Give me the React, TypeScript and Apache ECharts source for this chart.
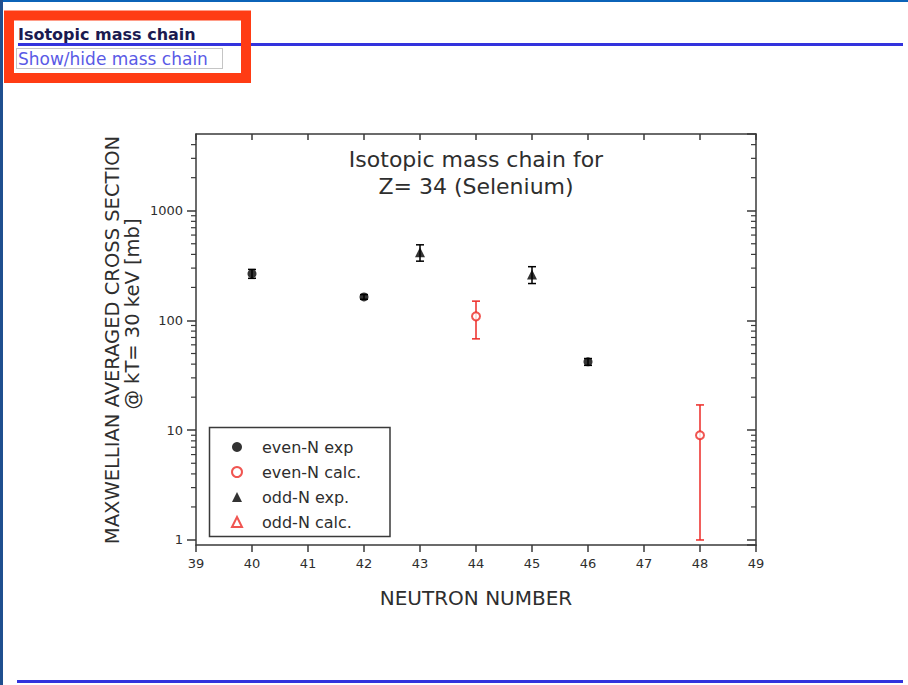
import React, { useEffect, useRef } from "react";
import * as echarts from "echarts";

// ---- data (Se, Z = 34): neutron number vs. MACS at kT = 30 keV [mb]
const evenExpN = [40, 42, 46];
const evenExpSigma = [267, 164, 42];
const evenExpErr = [25, 8, 3];

const evenCalcN = [44, 48];
const evenCalcSigma = [109, 9];
const evenCalcErr = [41, 8];

const oddExpN = [43, 45];
const oddExpSigma = [418, 263];
const oddExpErr = [71, 46];

const oddCalcN: number[] = [];
const oddCalcSigma: number[] = [];

const seriesNames = ["even-N exp", "even-N calc.", "odd-N exp.", "odd-N calc."];
const yMajorLabels = [1, 10, 100, 1000];
const yDecades = [1, 10, 100, 1000];
const yMinorMultipliers = [2, 3, 4, 5, 6, 7, 8, 9];
const xMin = 39;
const xMax = 49;
const yMin = 0.9;
const yMax = 5000;

const titleText = "Isotopic mass chain for\nZ= 34 (Selenium)";
const yTitle1 = "MAXWELLIAN AVERAGED CROSS SECTION";
const yTitle2 = "@ kT= 30 keV [mb]";
const xTitle = "NEUTRON NUMBER";

const FONT = '"DejaVu Sans", Verdana, sans-serif';
const RED = "#ec2a26";
const INK = "#2e2e2e";
const AXIS = "#3a3a3a";

function pairs(xs: number[], ys: number[]) {
  return xs.map((x, i) => [x, ys[i]]);
}

function errorBars(name: string, xs: number[], ys: number[], errs: number[], color: string) {
  return {
    type: "custom",
    name,
    coordinateSystem: "cartesian2d",
    clip: false,
    z: 2,
    silent: true,
    encode: { x: 0, y: [1, 2] },
    data: xs.map((x, i) => [x, ys[i] - errs[i], ys[i] + errs[i]]),
    renderItem: (_p: any, api: any) => {
      const x = api.value(0);
      const lo = api.coord([x, api.value(1)]);
      const hi = api.coord([x, api.value(2)]);
      const hw = 4;
      const st = { stroke: color, lineWidth: 1.5 };
      return {
        type: "group",
        children: [
          { type: "line", shape: { x1: lo[0], y1: lo[1], x2: hi[0], y2: hi[1] }, style: st },
          { type: "line", shape: { x1: lo[0] - hw, y1: lo[1], x2: lo[0] + hw, y2: lo[1] }, style: st },
          { type: "line", shape: { x1: hi[0] - hw, y1: hi[1], x2: hi[0] + hw, y2: hi[1] }, style: st },
        ],
      };
    },
  };
}

export default function App() {
  const ref = useRef<HTMLDivElement>(null);

  useEffect(() => {
    if (!ref.current) return;
    const chart = echarts.init(ref.current, null, { renderer: "svg" });

    const minorVals: number[][] = [];
    yDecades.forEach((d) =>
      yMinorMultipliers.forEach((m) => {
        const v = m * d;
        if (v < yMax) minorVals.push([xMin, v]);
      })
    );

    const axisLineStyle = { color: AXIS, width: 1.5 };
    const labelStyle = { fontFamily: FONT, fontSize: 13, color: INK };

    const option: any = {
      animation: false,
      backgroundColor: "#ffffff",
      title: {
        text: titleText,
        left: 476,
        top: 146,
        textAlign: "center",
        padding: 0,
        textStyle: { fontFamily: FONT, fontSize: 22, fontWeight: "normal", color: INK, lineHeight: 27 },
      },
      grid: { left: 196, top: 134, right: 152, bottom: 140 },
      legend: {
        data: seriesNames,
        orient: "vertical",
        left: 231,
        top: 439,
        padding: 0,
        itemWidth: 10,
        itemHeight: 10,
        itemGap: 9,
        symbolKeepAspect: true,
        selectedMode: false,
        textStyle: { fontFamily: FONT, fontSize: 16, color: INK, lineHeight: 16, padding: [0, 0, 0, 15] },
      },
      xAxis: [
        {
          type: "value",
          min: xMin,
          max: xMax,
          interval: 1,
          position: "bottom",
          name: xTitle,
          nameLocation: "middle",
          nameGap: 43,
          nameMoveOverlap: false,
          nameTextStyle: { fontFamily: FONT, fontSize: 20, color: INK },
          axisLine: { show: true, onZero: false, lineStyle: axisLineStyle },
          axisTick: { show: true, inside: false, length: 7, lineStyle: axisLineStyle },
          axisLabel: { show: true, margin: 12, ...labelStyle },
          splitLine: { show: false },
        },
        {
          type: "value",
          min: xMin,
          max: xMax,
          interval: 1,
          position: "top",
          axisLine: { show: true, onZero: false, lineStyle: axisLineStyle },
          axisTick: { show: true, inside: true, length: 6, lineStyle: axisLineStyle },
          axisLabel: { show: false },
          splitLine: { show: false },
        },
      ],
      yAxis: [
        {
          type: "log",
          logBase: 10,
          min: yMin,
          max: yMax,
          position: "left",
          axisLine: { show: true, onZero: false, lineStyle: axisLineStyle },
          axisTick: { show: true, inside: false, length: 9, lineStyle: axisLineStyle },
          axisLabel: {
            show: true,
            margin: 13,
            showMinLabel: false,
            showMaxLabel: false,
            ...labelStyle,
            formatter: (v: number) => {
              const hit = yMajorLabels.find((t) => Math.abs(t - v) < 1e-6 * t);
              return hit !== undefined ? String(hit) : "";
            },
          },
          splitLine: { show: false },
        },
        {
          type: "log",
          logBase: 10,
          min: yMin,
          max: yMax,
          position: "right",
          axisLine: { show: true, onZero: false, lineStyle: axisLineStyle },
          axisTick: { show: true, inside: true, length: 9, lineStyle: axisLineStyle },
          axisLabel: { show: false },
          splitLine: { show: false },
        },
      ],
      series: [
        {
          type: "custom",
          name: "minor ticks",
          coordinateSystem: "cartesian2d",
          clip: false,
          silent: true,
          z: 1,
          encode: { x: 0, y: 1 },
          data: minorVals,
          renderItem: (_p: any, api: any) => {
            const v = api.value(1);
            const l = api.coord([xMin, v]);
            const r = api.coord([xMax, v]);
            const st = { stroke: AXIS, lineWidth: 1.2 };
            return {
              type: "group",
              children: [
                { type: "line", shape: { x1: l[0] - 5, y1: l[1], x2: l[0], y2: l[1] }, style: st },
                { type: "line", shape: { x1: r[0] - 5, y1: r[1], x2: r[0], y2: r[1] }, style: st },
              ],
            };
          },
        },
        errorBars("even-N exp error", evenExpN, evenExpSigma, evenExpErr, "#000000"),
        errorBars("even-N calc. error", evenCalcN, evenCalcSigma, evenCalcErr, RED),
        errorBars("odd-N exp. error", oddExpN, oddExpSigma, oddExpErr, "#000000"),
        {
          type: "scatter",
          name: seriesNames[0],
          z: 3,
          symbol: "circle",
          symbolSize: 9,
          itemStyle: { color: "#000000" },
          data: pairs(evenExpN, evenExpSigma),
        },
        {
          type: "scatter",
          name: seriesNames[1],
          z: 3,
          symbol: "emptyCircle",
          symbolSize: 8,
          itemStyle: { color: RED, borderColor: RED, borderWidth: 1.5 },
          data: pairs(evenCalcN, evenCalcSigma),
        },
        {
          type: "scatter",
          name: seriesNames[2],
          z: 3,
          symbol: "triangle",
          symbolSize: 10,
          itemStyle: { color: "#000000" },
          data: pairs(oddExpN, oddExpSigma),
        },
        {
          type: "scatter",
          name: seriesNames[3],
          z: 3,
          symbol: "emptyTriangle",
          symbolSize: 9,
          itemStyle: { color: RED, borderColor: RED, borderWidth: 1.5 },
          data: pairs(oddCalcN, oddCalcSigma),
        },
      ],
      graphic: [
        // page chrome
        { type: "rect", z: 10, shape: { x: 0, y: 0, width: 908, height: 2 }, style: { fill: "#0b63b8" } },
        { type: "rect", z: 10, shape: { x: 0, y: 0, width: 3, height: 685 }, style: { fill: "#1f4f8f" } },
        { type: "rect", z: 10, shape: { x: 18, y: 43, width: 885, height: 3 }, style: { fill: "#3333dd" } },
        { type: "rect", z: 10, shape: { x: 17, y: 680, width: 886, height: 3 }, style: { fill: "#3333dd" } },
        {
          type: "text",
          z: 11,
          x: 18,
          y: 34.8,
          style: { text: "Isotopic mass chain", font: `bold 16px ${FONT}`, fill: "#1a1a50", verticalAlign: "middle" },
        },
        {
          type: "rect",
          z: 11,
          shape: { x: 16.5, y: 48.5, width: 206, height: 20 },
          style: { fill: "none", stroke: "#8a8a8a", lineWidth: 1, lineDash: [1, 1] },
        },
        {
          type: "text",
          z: 11,
          x: 18,
          y: 58.5,
          style: { text: "Show/hide mass chain", font: `17px ${FONT}`, fill: "#5a5ae6", verticalAlign: "middle" },
        },
        {
          type: "rect",
          z: 12,
          shape: { x: 9, y: 15.5, width: 237, height: 62.5 },
          style: { fill: "none", stroke: "#ff3c14", lineWidth: 10 },
        },
        // y axis title (two rotated lines)
        {
          type: "text",
          z: 5,
          x: 112.5,
          y: 340,
          rotation: Math.PI / 2,
          style: { text: yTitle1, font: `19.5px ${FONT}`, fill: INK, align: "center", verticalAlign: "middle" },
        },
        {
          type: "text",
          z: 5,
          x: 132,
          y: 314,
          rotation: Math.PI / 2,
          style: { text: yTitle2, font: `19.5px ${FONT}`, fill: INK, align: "center", verticalAlign: "middle" },
        },
        // legend frame
        {
          type: "rect",
          z: 5,
          shape: { x: 209.5, y: 427.5, width: 180.5, height: 109 },
          style: { fill: "none", stroke: AXIS, lineWidth: 1.5 },
        },
      ],
    };

    chart.setOption(option);
    return () => chart.dispose();
  }, []);

  return (
    <div
      ref={ref}
      style={{ position: "absolute", left: 0, top: 0, width: 908, height: 685, background: "#ffffff" }}
    />
  );
}
